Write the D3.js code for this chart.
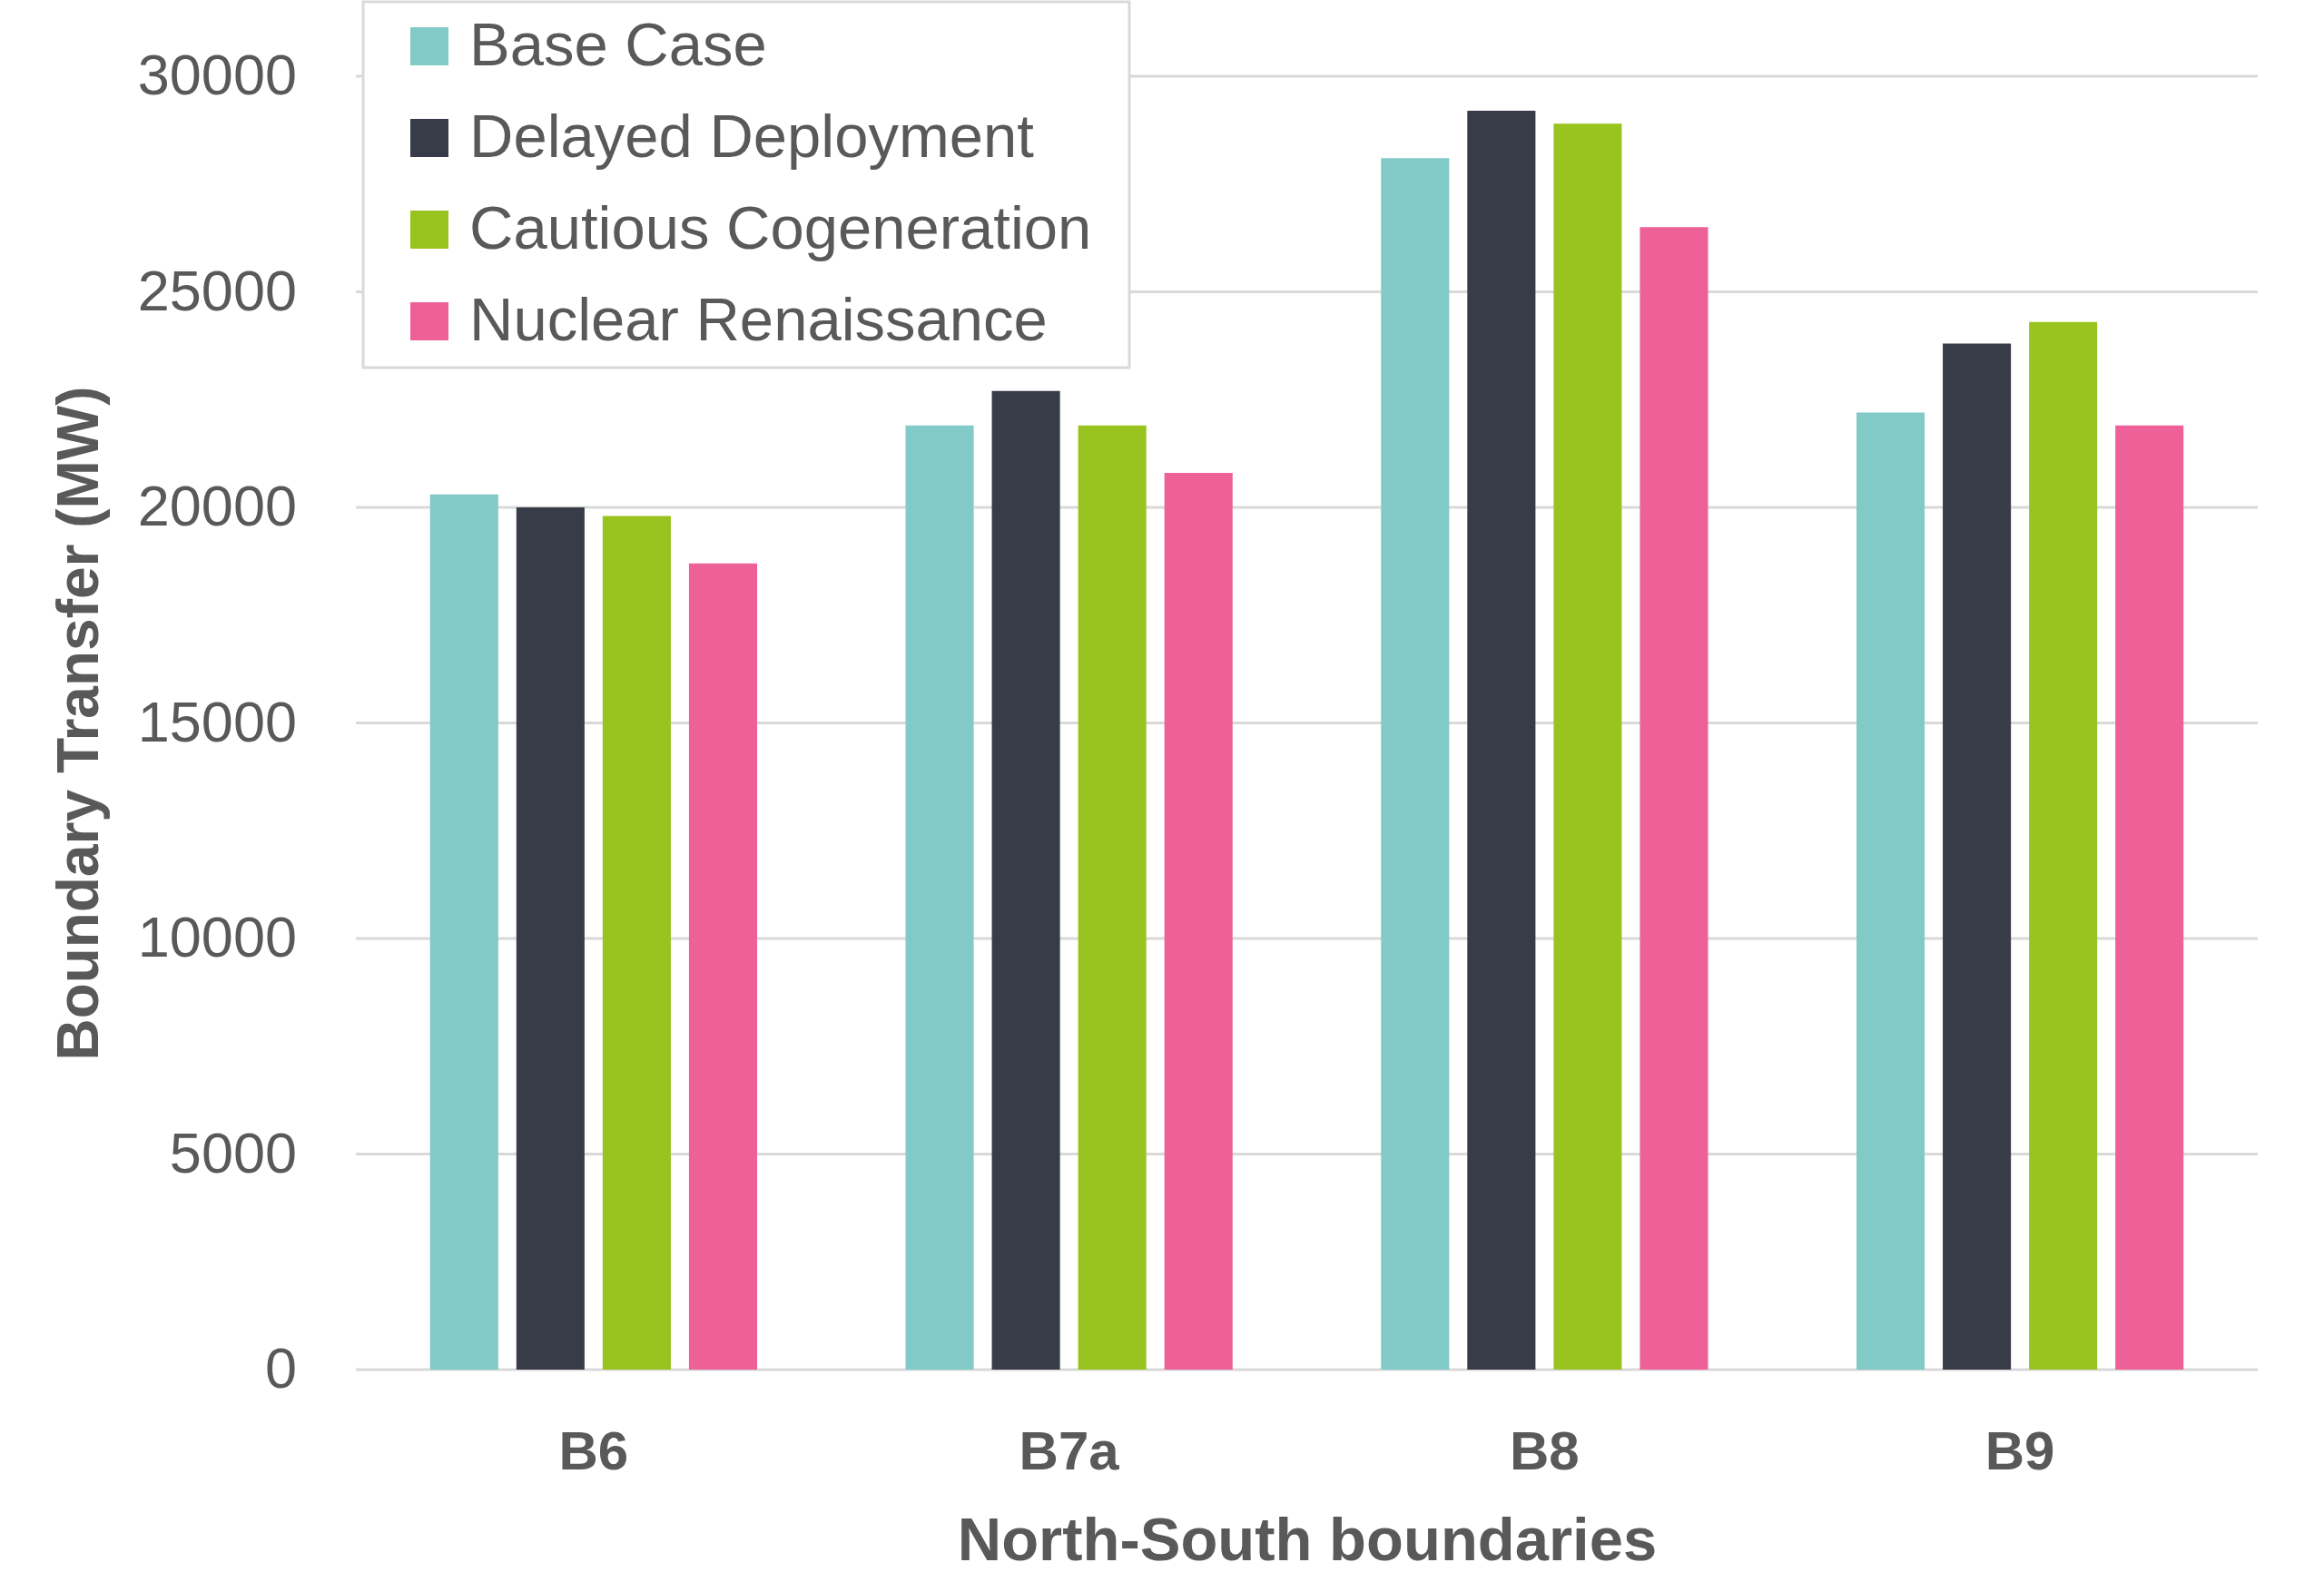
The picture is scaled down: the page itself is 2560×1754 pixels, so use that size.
<!DOCTYPE html>
<html>
<head>
<meta charset="utf-8">
<script src="https://cdn.jsdelivr.net/npm/d3@7"></script>
<style>
  body { margin: 0; background: #fff; }
  text { font-family: "Liberation Sans", Arial, sans-serif; fill: #595959; }
</style>
</head>
<body>
<div id="chart"></div>
<script>
// categories and series
const boundaries = ["B6", "B7a", "B8", "B9"];
const scenarios = ["Base Case", "Delayed Deployment", "Cautious Cogeneration", "Nuclear Renaissance"];
const baseCase = [20300, 21900, 28100, 22200];
const delayedDeployment = [20000, 22700, 29200, 23800];
const cautiousCogeneration = [19800, 21900, 28900, 24300];
const nuclearRenaissance = [18700, 20800, 26500, 21900];
const yTicks = [0, 5000, 10000, 15000, 20000, 25000, 30000];
const colors = ["#82CAC8", "#383C48", "#99C31F", "#EE6098"];

const seriesValues = [baseCase, delayedDeployment, cautiousCogeneration, nuclearRenaissance];
const data = boundaries.map((b, i) => ({
    name: b,
    values: scenarios.map((s, j) => ({ key: s, value: seriesValues[j][i] }))
}));

const width = 2560, height = 1754;
const margin = {top: 84, right: 73, bottom: 245, left: 392};

const svg = d3.select("#chart")
    .append("svg")
    .attr("width", width)
    .attr("height", height);

svg.append("rect").attr("width", width).attr("height", height).attr("fill", "#fff");

const x0 = d3.scaleBand()
    .domain(boundaries)
    .range([margin.left, width - margin.right])
    .paddingInner(0);

const x1 = d3.scaleBand()
    .domain(scenarios)
    .range([0, x0.bandwidth()])
    .paddingInner(0.21)
    .paddingOuter(0.86);

const y = d3.scaleLinear()
    .domain([0, 30000])
    .range([height - margin.bottom, margin.top]);

const color = d3.scaleOrdinal().domain(scenarios).range(colors);

// gridlines
svg.append("g")
    .selectAll("line")
    .data(yTicks)
    .join("line")
    .attr("x1", margin.left)
    .attr("x2", width - margin.right)
    .attr("y1", d => y(d))
    .attr("y2", d => y(d))
    .attr("stroke", "#D9D9D9")
    .attr("stroke-width", 3);

// y tick labels
svg.append("g")
    .selectAll("text")
    .data(yTicks)
    .join("text")
    .attr("x", 327)
    .attr("y", d => y(d))
    .attr("dy", "0.32em")
    .attr("text-anchor", "end")
    .style("font-size", "63px")
    .text(d => d);

// bars
svg.append("g")
    .selectAll("g")
    .data(data)
    .join("g")
    .attr("transform", d => `translate(${x0(d.name)},0)`)
    .selectAll("rect")
    .data(d => d.values)
    .join("rect")
    .attr("x", d => x1(d.key))
    .attr("width", x1.bandwidth())
    .attr("y", d => y(d.value))
    .attr("height", d => y(0) - y(d.value))
    .attr("fill", d => color(d.key));

// x tick labels
svg.append("g")
    .selectAll("text")
    .data(boundaries)
    .join("text")
    .attr("x", d => x0(d) + x0.bandwidth() / 2)
    .attr("y", 1619)
    .attr("text-anchor", "middle")
    .style("font-size", "60px")
    .style("font-weight", "bold")
    .text(d => d);

// axis titles
svg.append("text")
    .attr("x", 1440)
    .attr("y", 1719)
    .attr("text-anchor", "middle")
    .style("font-size", "67px")
    .style("font-weight", "bold")
    .text("North-South boundaries");

svg.append("text")
    .attr("transform", "translate(85,797) rotate(-90)")
    .attr("dy", "0.36em")
    .attr("text-anchor", "middle")
    .style("font-size", "64px")
    .style("font-weight", "bold")
    .text("Boundary Transfer (MW)");

// legend
const legendBox = svg.append("g");
legendBox.append("rect")
    .attr("x", 400)
    .attr("y", 2)
    .attr("width", 844)
    .attr("height", 403)
    .attr("fill", "#fff")
    .attr("stroke", "#D9D9D9")
    .attr("stroke-width", 3);

const legend = legendBox.selectAll(".legend")
    .data(scenarios)
    .join("g")
    .attr("class", "legend")
    .attr("transform", (d, i) => `translate(452,${30 + i * 101})`);

legend.append("rect")
    .attr("x", 0)
    .attr("y", 0)
    .attr("width", 42)
    .attr("height", 42)
    .attr("fill", d => color(d));

legend.append("text")
    .attr("x", 65)
    .attr("y", 42)
    .style("font-size", "67px")
    .text(d => d);
</script>
</body>
</html>
